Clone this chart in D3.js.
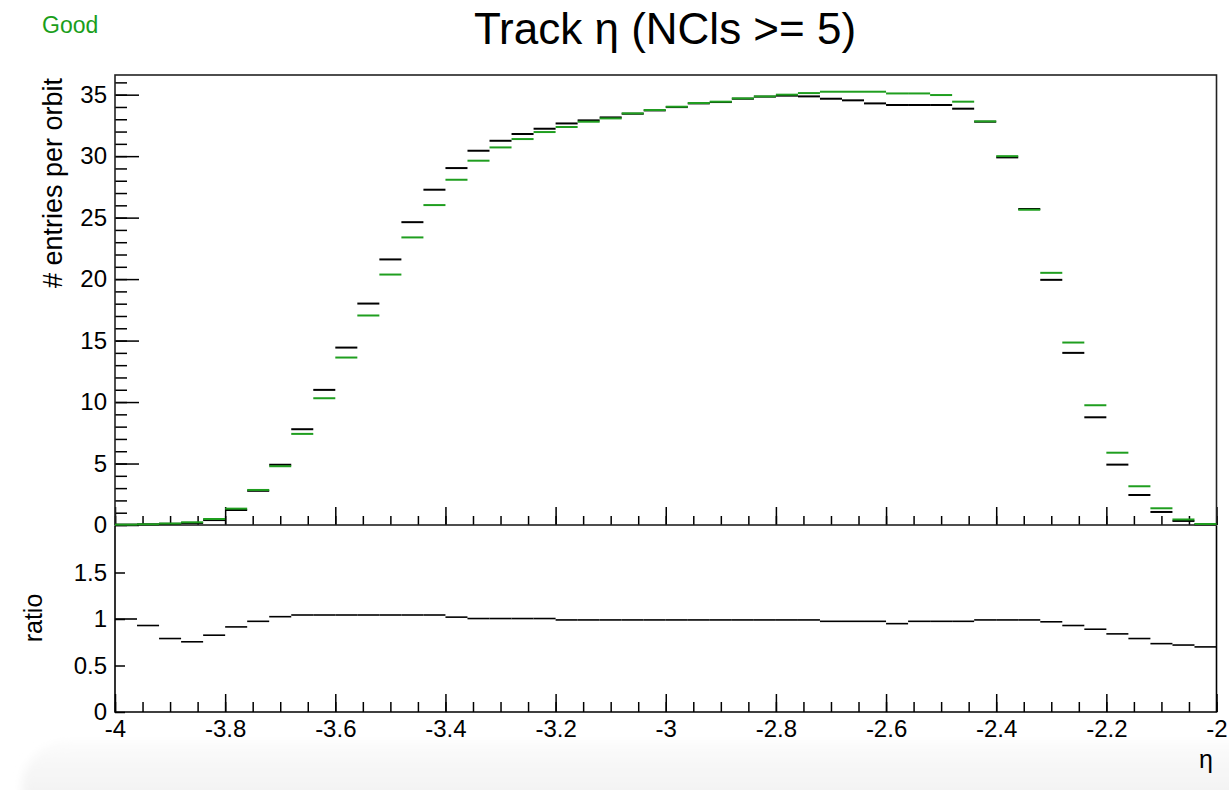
<!DOCTYPE html>
<html>
<head>
<meta charset="utf-8">
<script src="https://cdn.jsdelivr.net/npm/d3@7"></script>
<style>
  body { margin: 0; background: #fff; }
  svg { display: block; font-family: "Liberation Sans", Arial, Helvetica, sans-serif; }
  .tick text { font-size: 24px; fill: #000; }
  .tick line { stroke: #000; stroke-width: 1.5px; }
</style>
</head>
<body>
<div id="chart"></div>
<script>
// binning: 50 bins of 0.04 between -4 and -2
var etaMin = -4, etaMax = -2, nBins = 50;
var binEdges = d3.range(nBins + 1).map(function (i) { return etaMin + i * (etaMax - etaMin) / nBins; });

// green (current run)
var greenValues = [0.03, 0.06, 0.12, 0.22, 0.49, 1.33, 2.85, 4.78, 7.41, 10.31,
  13.62, 17.04, 20.37, 23.39, 26.02, 28.08, 29.63, 30.71, 31.39, 31.96,
  32.37, 32.80, 33.07, 33.48, 33.75, 34.02, 34.32, 34.43, 34.70, 34.86,
  35.00, 35.13, 35.24, 35.24, 35.24, 35.10, 35.10, 34.97, 34.43, 32.83,
  30.00, 25.64, 20.51, 14.84, 9.74, 5.88, 3.15, 1.36, 0.45, 0.08];

// black (reference)
var blackValues = [0.03, 0.056, 0.095, 0.166, 0.40, 1.22, 2.78, 4.90, 7.79, 10.99,
  14.43, 18.01, 21.60, 24.63, 27.27, 29.03, 30.44, 31.25, 31.80, 32.23,
  32.66, 32.91, 33.15, 33.45, 33.72, 33.99, 34.29, 34.40, 34.67, 34.84,
  34.92, 34.86, 34.67, 34.54, 34.29, 34.16, 34.16, 34.16, 33.86, 32.80,
  29.90, 25.70, 19.94, 14.00, 8.76, 4.91, 2.44, 1.06, 0.33, 0.056];

// ratio panel
var ratioValues = [1.00, 0.93, 0.79, 0.755, 0.826, 0.915, 0.975, 1.025, 1.043, 1.043,
  1.043, 1.043, 1.043, 1.043, 1.043, 1.02, 1.005, 1.005, 1.005, 1.005,
  0.99, 0.99, 0.99, 0.99, 0.99, 0.99, 0.99, 0.99, 0.99, 0.99,
  0.99, 0.99, 0.975, 0.975, 0.975, 0.95, 0.975, 0.975, 0.975, 0.99,
  0.99, 0.99, 0.97, 0.93, 0.89, 0.84, 0.79, 0.735, 0.72, 0.70];

var xMajorTicks = [-4, -3.8, -3.6, -3.4, -3.2, -3, -2.8, -2.6, -2.4, -2.2, -2];
var yMajorTicks = [0, 5, 10, 15, 20, 25, 30, 35];
var ratioTicks = [0, 0.5, 1, 1.5];

// plain hyphen minus, like ROOT labels
var plain = function (d) { return String(d); };

var W = 1229, H = 790;
var svg = d3.select("#chart").append("svg").attr("width", W).attr("height", H);

// soft grey strip at the bottom of the screenshot
var defs = svg.append("defs");
var grad = defs.append("linearGradient").attr("id", "strip").attr("x1", 0).attr("y1", 0).attr("x2", 0).attr("y2", 1);
grad.append("stop").attr("offset", "0%").attr("stop-color", "#fbfbfb");
grad.append("stop").attr("offset", "100%").attr("stop-color", "#ececec");
defs.append("filter").attr("id", "blur").append("feGaussianBlur").attr("stdDeviation", 5);
svg.append("rect").attr("x", 22).attr("y", 742).attr("width", 1260).attr("height", 90)
  .attr("rx", 45).attr("fill", "url(#strip)").attr("filter", "url(#blur)");

var x = d3.scaleLinear().domain([etaMin, etaMax]).range([115, 1216.5]);
var y = d3.scaleLinear().domain([0, 36.6]).range([525, 75]);
var yr = d3.scaleLinear().domain([0, 2]).range([712, 526]);

// top panel axes
svg.append("g").attr("transform", "translate(115,0)")
  .call(d3.axisLeft(y).tickValues(d3.range(0, 37, 1)).tickSize(-12).tickFormat(""))
  .call(function (g) { g.select(".domain").remove(); });
svg.append("g").attr("transform", "translate(115,0)")
  .call(d3.axisLeft(y).tickValues(yMajorTicks).tickSize(-24).tickPadding(8).tickFormat(plain))
  .call(function (g) { g.select(".domain").remove(); });
svg.append("g").attr("transform", "translate(0,525)")
  .call(d3.axisBottom(x).tickValues(d3.range(-4, -1.99, 0.05)).tickSize(-9).tickFormat(""))
  .call(function (g) { g.select(".domain").remove(); });
svg.append("g").attr("transform", "translate(0,525)")
  .call(d3.axisBottom(x).tickValues(xMajorTicks).tickSize(-18).tickFormat(""))
  .call(function (g) { g.select(".domain").remove(); });

// bottom panel axes
svg.append("g").attr("transform", "translate(115,0)")
  .call(d3.axisLeft(yr).tickValues(ratioTicks).tickSize(-10).tickPadding(8).tickFormat(plain))
  .call(function (g) { g.select(".domain").remove(); });
svg.append("g").attr("transform", "translate(0,712)")
  .call(d3.axisBottom(x).tickValues(d3.range(-4, -1.99, 0.05)).tickSize(-10).tickFormat(""))
  .call(function (g) { g.select(".domain").remove(); });
svg.append("g").attr("transform", "translate(0,712)")
  .call(d3.axisBottom(x).tickValues(xMajorTicks).tickSize(-18).tickPadding(8).tickFormat(plain))
  .call(function (g) { g.select(".domain").remove(); });

// frames
svg.append("rect").attr("x", x(etaMin)).attr("y", y(36.6)).attr("width", x(etaMax) - x(etaMin)).attr("height", y(0) - y(36.6))
  .attr("fill", "none").attr("stroke", "#222").attr("stroke-width", 1.6);
svg.append("path")
  .attr("d", "M" + x(etaMin) + "," + yr(2) + "V" + yr(0) + "H" + x(etaMax) + "V" + yr(2))
  .attr("fill", "none").attr("stroke", "#000").attr("stroke-width", 1.6);

// histograms drawn as one horizontal bar per bin
function drawHist(values, yScale, color, width) {
  svg.append("g").selectAll("line")
    .data(values)
    .enter()
    .append("line")
    .attr("x1", function (d, i) { return x(binEdges[i]); })
    .attr("x2", function (d, i) { return x(binEdges[i + 1]); })
    .attr("y1", function (d) { return yScale(d); })
    .attr("y2", function (d) { return yScale(d); })
    .attr("stroke", color)
    .attr("stroke-width", width);
}
drawHist(blackValues, y, "#000", 2);
drawHist(greenValues, y, "#1f9e1f", 2);
drawHist(ratioValues, yr, "#000", 1.6);

// texts
svg.append("text").attr("x", 665).attr("y", 44).attr("text-anchor", "middle")
  .style("font-size", "44px").text("Track η (NCls >= 5)");
svg.append("text").attr("x", 42).attr("y", 33).style("font-size", "23px").attr("fill", "#1a9e1a").text("Good");
svg.append("text").attr("transform", "translate(62,78) rotate(-90)").attr("text-anchor", "end")
  .style("font-size", "27px").text("# entries per orbit");
svg.append("text").attr("transform", "translate(42,618) rotate(-90)").attr("text-anchor", "middle")
  .style("font-size", "25px").text("ratio");
svg.append("text").attr("x", 1213).attr("y", 768).attr("text-anchor", "end")
  .style("font-size", "25px").text("η");
</script>
</body>
</html>
